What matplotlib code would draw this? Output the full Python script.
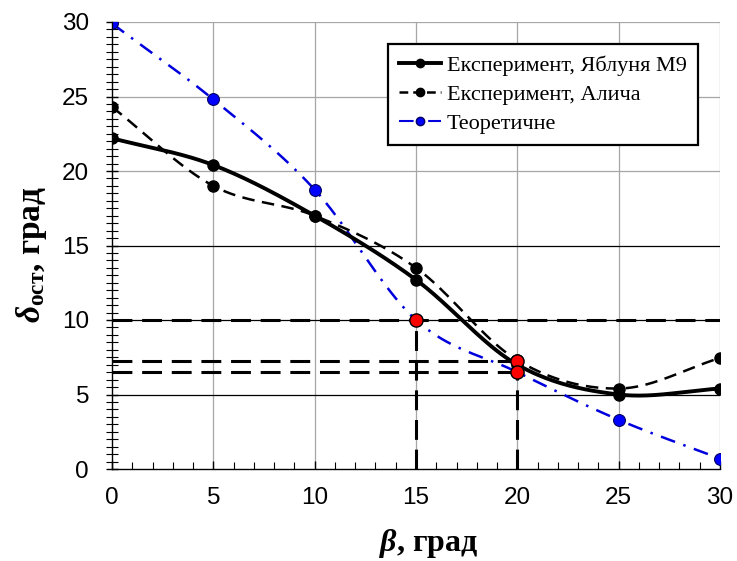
import numpy as np
import matplotlib
matplotlib.use("Agg")
import matplotlib.pyplot as plt
from matplotlib.lines import Line2D

# ---- data ----
beta = [0, 5, 10, 15, 20, 25, 30]
apple_m9 = [22.2, 20.4, 17.0, 12.7, 7.0, 5.0, 5.4]
alycha = [24.3, 19.0, 17.0, 13.5, 7.3, 5.4, 7.45]
theory = [29.9, 24.8, 18.75, 10.0, 6.5, 3.3, 0.7]
red_x = [15, 20, 20]
red_y = [10.0, 7.25, 6.5]
h_levels = [10.0, 7.25, 6.5]
h_ends = [30, 20, 20]
v_x = [15, 20]
v_tops = [10.0, 7.25]
x_ticks = [0, 5, 10, 15, 20, 25, 30]
y_ticks = [0, 5, 10, 15, 20, 25, 30]
labels = ["Експеримент, Яблуня М9", "Експеримент, Алича", "Теоретичне"]


def smooth(xs, ys, n=40):
    """Catmull-Rom style smoothing (like spreadsheet smoothed lines)."""
    xs = np.asarray(xs, float)
    ys = np.asarray(ys, float)
    px = np.concatenate([[2 * xs[0] - xs[1]], xs, [2 * xs[-1] - xs[-2]]])
    py = np.concatenate([[2 * ys[0] - ys[1]], ys, [2 * ys[-1] - ys[-2]]])
    ox, oy = [], []
    for i in range(1, len(px) - 2):
        p0, p1, p2, p3 = (np.array([px[j], py[j]]) for j in (i - 1, i, i + 1, i + 2))
        c1 = p1 + (p2 - p0) / 6
        c2 = p2 - (p3 - p1) / 6
        t = np.linspace(0, 1, n)[:, None]
        b = ((1 - t) ** 3) * p1 + 3 * ((1 - t) ** 2) * t * c1 + 3 * (1 - t) * t ** 2 * c2 + t ** 3 * p2
        ox.extend(b[:, 0])
        oy.extend(b[:, 1])
    return np.array(ox), np.array(oy)


plt.rcParams['font.family'] = ['Liberation Sans', 'DejaVu Sans']
plt.rcParams['mathtext.fontset'] = 'custom'
plt.rcParams['mathtext.it'] = 'Liberation Serif:bold:italic'
plt.rcParams['mathtext.rm'] = 'Liberation Serif:bold'
plt.rcParams['mathtext.bf'] = 'Liberation Serif:bold'

fig = plt.figure(figsize=(7.37, 5.61), dpi=100)
ax = fig.add_axes([112 / 737, 1 - 469 / 561, (720 - 112) / 737, (469 - 22) / 561])

ax.set_xlim(0, 30)
ax.set_ylim(0, 30)

# grid
for v in x_ticks[1:]:
    ax.axvline(v, color='#a6a6a6', lw=0.9, zorder=1)
for v in y_ticks[1:]:
    col = 'black' if v in (5, 10, 15) else '#a6a6a6'
    ax.axhline(v, color=col, lw=0.9, zorder=1)

# reference dashed lines
dash = (0, (6.5, 3.2))
for lvl, xe in zip(h_levels, h_ends):
    ax.plot([0, xe], [lvl, lvl], color='black', lw=2.2, ls=dash, zorder=2)
for xv, yt in zip(v_x, v_tops):
    ax.plot([xv, xv], [0, yt], color='black', lw=2.2, ls=dash, zorder=2)

# series
blue_ls = (0, (6, 3.5, 1, 3.5))
sx, sy = smooth(beta, theory)
ax.plot(sx, sy, color='#0000dd', lw=1.8, ls=blue_ls, zorder=3)
ax.plot(beta, theory, 'o', color='#0000ff', mec='#000060', mew=0.8, ms=8.5, zorder=6)

sx, sy = smooth(beta, alycha)
ax.plot(sx, sy, color='black', lw=1.8, ls=(0, (5, 3)), zorder=4)
ax.plot(beta, alycha, 'o', color='black', ms=8, zorder=5)

sx, sy = smooth(beta, apple_m9)
ax.plot(sx, sy, color='black', lw=2.8, ls='-', zorder=4)
ax.plot(beta, apple_m9, 'o', color='black', ms=8, zorder=5)

ax.plot(red_x, red_y, 'o', color='red', mec='black', mew=1.0, ms=9.5, zorder=7)

# spines / ticks
for s in ('top', 'right'):
    ax.spines[s].set_visible(False)
for s in ('left', 'bottom'):
    ax.spines[s].set_color('black')
    ax.spines[s].set_linewidth(1.0)
    ax.spines[s].set_zorder(8)

ax.set_xticks(x_ticks)
ax.set_yticks(y_ticks)
ax.set_xticks(np.arange(0, 31, 1), minor=True)
ax.set_yticks(np.arange(0, 30.01, 0.5), minor=True)
ax.tick_params(axis='x', which='major', direction='in', length=6, width=1, pad=13, labelsize=17.5)
ax.tick_params(axis='x', which='minor', direction='in', length=5, width=0.8)
ax.tick_params(axis='y', which='major', direction='inout', length=9, width=1, pad=12, labelsize=17.5)
ax.tick_params(axis='y', which='minor', direction='inout', length=8, width=0.8)

# axis labels
fig.text(429 / 737, 1 - 543 / 561, r"$\beta$, град", ha='center', va='center',
         fontsize=23, fontfamily='Liberation Serif', fontweight='bold')
fig.text(32 / 737, 1 - 255 / 561, r"$\delta_{\mathrm{ост}}$, град", ha='center', va='center',
         rotation=90, fontsize=24, fontfamily='Liberation Serif', fontweight='bold')

# legend
handles = [
    Line2D([], [], color='black', lw=2.8, marker='o', ms=6),
    Line2D([], [], color='black', lw=1.8, ls=(0, (3.5, 2)), marker='o', ms=6),
    Line2D([], [], color='#0000dd', lw=1.5, ls=(0, (7, 3, 1, 3)), marker='o', ms=6,
           mfc='#0000ff', mec='#000060'),
]
leg = ax.legend(handles, labels, loc='upper left', bbox_to_anchor=(388 / 737, 1 - 44 / 561),
                bbox_transform=fig.transFigure, borderaxespad=0, frameon=True, fancybox=False,
                edgecolor='black', framealpha=1, handlelength=1.9, handletextpad=0.25,
                labelspacing=0.38, borderpad=0.5,
                prop={'family': 'Liberation Serif', 'size': 16})
leg.get_frame().set_linewidth(1.6)
leg.set_zorder(10)

fig.savefig('out.png', dpi=100)
